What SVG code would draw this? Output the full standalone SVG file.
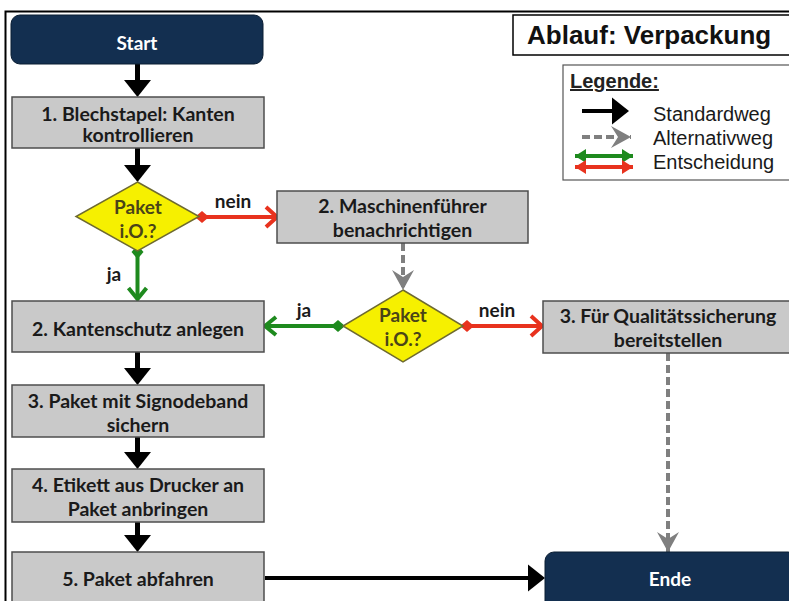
<svg xmlns="http://www.w3.org/2000/svg" width="789" height="601" viewBox="0 0 789 601">
<defs>
<style>
.box{fill:#c9c9c9;stroke:#4d4d4d;stroke-width:1.5}
.term{fill:#132f50;stroke:#0b1e33;stroke-width:1}
.dia{fill:#f6f000;stroke:#6e6a30;stroke-width:1.5}
.t{font-family:Lato,"Open Sans",sans-serif;font-weight:bold;font-size:19.5px;fill:#1a1a1a;text-anchor:middle}
.tw{font-family:Lato,"Open Sans",sans-serif;font-weight:bold;font-size:19px;fill:#ffffff;text-anchor:middle}
.td{font-family:Lato,"Open Sans",sans-serif;font-weight:bold;font-size:19px;fill:#4a4418;text-anchor:middle}
.lbl{font-family:Lato,"Open Sans",sans-serif;font-weight:bold;font-size:19px;fill:#1a1a1a;text-anchor:middle}
.blk{stroke:#000;stroke-width:5;fill:none}
.grn{stroke:#1e8a1e;stroke-width:4;fill:none}
.red{stroke:#e8321e;stroke-width:4;fill:none}
.gry{stroke:#7f7f7f;stroke-width:4;fill:none;stroke-dasharray:8 4}
.leg{font-family:"Liberation Sans",Arial,sans-serif;font-size:20px;fill:#1a1a1a}
</style>
<marker id="mBlk" markerUnits="userSpaceOnUse" markerWidth="18" markerHeight="27" refX="0" refY="13.5" orient="auto" overflow="visible">
<path d="M0,0 L17,13.5 L0,27 z" fill="#000"/>
</marker>
<marker id="mGrn" markerUnits="userSpaceOnUse" markerWidth="20" markerHeight="24" refX="14" refY="12" orient="auto" overflow="visible">
<path d="M3,3 L14,12 L3,21" fill="none" stroke="#1e8a1e" stroke-width="4" stroke-linejoin="miter"/>
</marker>
<marker id="mRed" markerUnits="userSpaceOnUse" markerWidth="20" markerHeight="24" refX="14" refY="12" orient="auto" overflow="visible">
<path d="M3,2 L14,12 L3,22" fill="none" stroke="#e8321e" stroke-width="4" stroke-linejoin="miter"/>
</marker>
<marker id="fGrn" markerUnits="userSpaceOnUse" markerWidth="12" markerHeight="16" refX="11" refY="7" orient="auto-start-reverse" overflow="visible">
<path d="M0,0 L11,7 L0,14 z" fill="#1e8a1e"/>
</marker>
<marker id="fRed" markerUnits="userSpaceOnUse" markerWidth="12" markerHeight="16" refX="11" refY="7" orient="auto-start-reverse" overflow="visible">
<path d="M0,0 L11,7 L0,14 z" fill="#e8321e"/>
</marker>
<marker id="dGrn" markerUnits="userSpaceOnUse" markerWidth="14" markerHeight="14" refX="7" refY="7" orient="auto" overflow="visible">
<path d="M0,7 L7,1 L14,7 L7,13 z" fill="#1e8a1e"/>
</marker>
<marker id="dRed" markerUnits="userSpaceOnUse" markerWidth="14" markerHeight="14" refX="7" refY="7" orient="auto" overflow="visible">
<path d="M0,7 L7,1 L14,7 L7,13 z" fill="#e8321e"/>
</marker>
<marker id="mGry" markerUnits="userSpaceOnUse" markerWidth="20" markerHeight="22" refX="20" refY="11" orient="auto" overflow="visible">
<path d="M0,0 L20,11 L0,22 L7,11 z" fill="#7f7f7f"/>
</marker>
</defs>
<rect width="789" height="601" fill="#ffffff"/>
<path d="M5.5,601 V11.5 H789" fill="none" stroke="#000" stroke-width="2"/>

<g id="title">
<rect x="513" y="15" width="290" height="40" fill="#fff" stroke="#000" stroke-width="1.5"/>
<text x="527" y="44" font-family="'Liberation Sans',Arial,sans-serif" font-weight="bold" font-size="26" fill="#111">Ablauf: Verpackung</text>
</g>

<g id="legend">
<rect x="563" y="65" width="240" height="115" fill="#fff" stroke="#555" stroke-width="1.2"/>
<text x="570" y="88" font-family="'Liberation Sans',Arial,sans-serif" font-weight="bold" font-size="20" fill="#222" text-decoration="underline">Legende:</text>
<line x1="582" y1="111" x2="612" y2="111" class="blk" marker-end="url(#mBlk)" style="stroke-width:4"/>
<line x1="582" y1="137" x2="631" y2="137" class="gry" marker-end="url(#mGry)"/>
<line x1="575" y1="156" x2="633" y2="156" class="grn" marker-start="url(#fGrn)" marker-end="url(#fGrn)"/>
<line x1="575" y1="167" x2="633" y2="167" class="red" marker-start="url(#fRed)" marker-end="url(#fRed)"/>
<text x="653" y="121" class="leg">Standardweg</text>
<text x="653" y="145" class="leg">Alternativweg</text>
<text x="653" y="169" class="leg">Entscheidung</text>
</g>

<g id="connectors">
<line x1="137.5" y1="64" x2="137.5" y2="80" class="blk" marker-end="url(#mBlk)"/>
<line x1="137.5" y1="148" x2="137.5" y2="165" class="blk" marker-end="url(#mBlk)"/>
<line x1="137.5" y1="252" x2="137.5" y2="299" class="grn" marker-start="url(#dGrn)" marker-end="url(#mGrn)"/>
<line x1="202" y1="217" x2="277" y2="217" class="red" marker-start="url(#dRed)" marker-end="url(#mRed)"/>
<line x1="403" y1="243" x2="403" y2="290" class="gry" marker-end="url(#mGry)"/>
<line x1="338" y1="326" x2="265" y2="326" class="grn" marker-start="url(#dGrn)" marker-end="url(#mGrn)"/>
<line x1="467" y1="326" x2="542" y2="326" class="red" marker-start="url(#dRed)" marker-end="url(#mRed)"/>
<line x1="668" y1="353" x2="668" y2="552" class="gry" marker-end="url(#mGry)"/>
<line x1="137.5" y1="352" x2="137.5" y2="368" class="blk" marker-end="url(#mBlk)"/>
<line x1="137.5" y1="437" x2="137.5" y2="452" class="blk" marker-end="url(#mBlk)"/>
<line x1="137.5" y1="522" x2="137.5" y2="535" class="blk" marker-end="url(#mBlk)"/>
<line x1="265" y1="578" x2="528" y2="578" class="blk" marker-end="url(#mBlk)" style="stroke-width:4"/>
<text x="233" y="208" class="lbl">nein</text>
<text x="114" y="281" class="lbl">ja</text>
<text x="304" y="317" class="lbl">ja</text>
<text x="497" y="317" class="lbl">nein</text>
</g>

<g id="start">
<rect x="11" y="15" width="252" height="49" rx="9" class="term"/>
<text x="137" y="50" class="tw">Start</text>
</g>
<g id="n1">
<rect x="12" y="97" width="252" height="51" class="box"/>
<text x="138" y="121" class="t">1. Blechstapel: Kanten</text>
<text x="138" y="142" class="t">kontrollieren</text>
</g>
<g id="d1">
<polygon points="137.5,182 199,216.5 137.5,251 76,216.5" class="dia"/>
<text x="138" y="214" class="td">Paket</text>
<text x="138" y="238" class="td">i.O.?</text>
</g>
<g id="n2a">
<rect x="277" y="191" width="251" height="52" class="box"/>
<text x="402.5" y="213" class="t">2. Maschinenführer</text>
<text x="402.5" y="237" class="t">benachrichtigen</text>
</g>
<g id="d2">
<polygon points="403,290 463,326 403,362 343,326" class="dia"/>
<text x="403" y="322" class="td">Paket</text>
<text x="403" y="346" class="td">i.O.?</text>
</g>
<g id="n2">
<rect x="12" y="301" width="252" height="51" class="box"/>
<text x="138" y="336" class="t">2. Kantenschutz anlegen</text>
</g>
<g id="n3q">
<rect x="543" y="301" width="252" height="52" class="box"/>
<text x="668" y="323" class="t">3. Für Qualitätssicherung</text>
<text x="668" y="347" class="t">bereitstellen</text>
</g>
<g id="n3">
<rect x="12" y="385" width="252" height="52" class="box"/>
<text x="138" y="408" class="t">3. Paket mit Signodeband</text>
<text x="138" y="432" class="t">sichern</text>
</g>
<g id="n4">
<rect x="12" y="469" width="252" height="53" class="box"/>
<text x="138" y="492" class="t">4. Etikett aus Drucker an</text>
<text x="138" y="516" class="t">Paket anbringen</text>
</g>
<g id="n5">
<rect x="12" y="552" width="252" height="60" class="box"/>
<text x="138" y="586" class="t">5. Paket abfahren</text>
</g>
<g id="ende">
<rect x="545" y="552" width="252" height="60" rx="9" class="term"/>
<text x="670" y="586" class="tw">Ende</text>
</g>
</svg>
